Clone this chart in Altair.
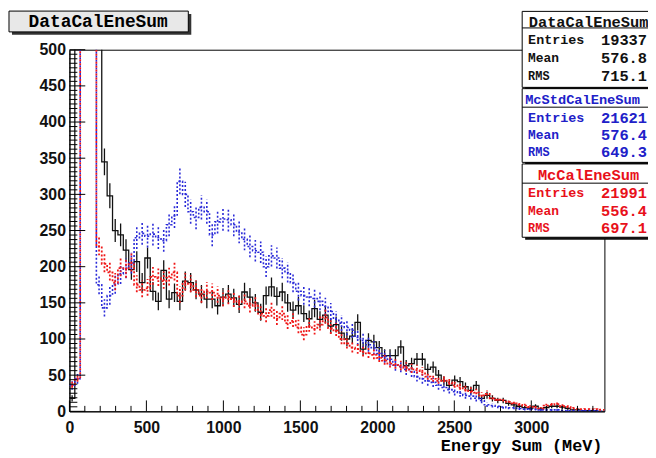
import altair as alt
import pandas as pd

# ---------------- data (35 MeV bins starting at 0) ----------------
BIN_WIDTH = 35
DATA_CAL = [18, 900, 2000, 2200, 1500, 800, 345, 298, 250, 244,
            223, 196, 207, 178, 212, 166, 152, 195, 155, 164,
            152, 180, 178, 168, 162, 155, 155, 146, 158, 162,
            157, 148, 165, 158, 150, 137, 160, 172, 159, 165,
            150, 140, 146, 135, 128, 142, 127, 133, 118, 120,
            108, 100, 104, 123, 86, 98, 96, 88, 77, 77,
            77, 89, 63, 66, 72, 72, 58, 61, 50, 42,
            36, 43, 41, 34, 29, 36, 18, 22, 18, 15,
            15, 11, 9, 7, 5, 4, 7, 3, 5, 7,
            7, 6, 4, 2, 2, 1, 1, 1, 0, 0]
MC_STD = [36, 45, 1500, 2500, 1200, 175, 143, 160, 176, 190,
          198, 205, 240, 246, 242, 245, 240, 236, 258, 270,
          318, 300, 276, 268, 282, 276, 244, 262, 266, 265,
          258, 248, 238, 228, 222, 220, 200, 215, 212, 198,
          192, 178, 166, 160, 158, 156, 152, 145, 138, 127,
          122, 116, 112, 102, 98, 92, 88, 80, 76, 72,
          64, 62, 58, 55, 48, 45, 42, 40, 36, 33,
          30, 27, 25, 22, 21, 18, 15, 9, 8, 7,
          6, 5, 5, 4, 3, 3, 3, 2, 2, 2,
          2, 1, 1, 1, 1, 1, 1, 1, 0, 0]
MC_CAL = [36, 45, 1500, 2500, 1200, 228, 204, 192, 178, 198,
          196, 205, 175, 168, 170, 186, 184, 180, 185, 192,
          160, 178, 175, 168, 160, 166, 164, 160, 155, 158,
          154, 150, 152, 146, 148, 135, 132, 140, 128, 135,
          122, 125, 116, 106, 118, 114, 120, 130, 115, 112,
          100, 94, 88, 86, 82, 80, 78, 74, 70, 66,
          64, 62, 60, 58, 57, 54, 48, 45, 42, 44,
          40, 36, 33, 30, 28, 26, 22, 24, 18, 16,
          15, 13, 11, 9, 8, 6, 5, 4, 8, 9,
          10, 7, 6, 4, 3, 3, 3, 3, 2, 2]

X_TICKS = [0, 500, 1000, 1500, 2000, 2500, 3000]
Y_TICKS = [0, 50, 100, 150, 200, 250, 300, 350, 400, 450, 500]

STAT_NAMES = ["DataCalEneSum", "McStdCalEneSum", "McCalEneSum"]
STAT_ENTRIES = ["19337", "21621", "21991"]
STAT_MEANS = ["576.8", "576.4", "556.4"]
STAT_RMS = ["715.1", "649.3", "697.1"]
STAT_COLORS = ["#111111", "#2020c8", "#e8101a"]

TITLE = "DataCalEneSum"
X_TITLE = "Energy Sum (MeV)"

# ---------------- layout ----------------
X_MAX, Y_MAX = 3475, 500
W, H = 540, 365
MONO = "Liberation Mono"
SANS = "Liberation Sans"

xscale = alt.Scale(domain=[0, X_MAX], nice=False, zero=False)
yscale = alt.Scale(domain=[0, Y_MAX], nice=False)

XAX = alt.Axis(values=X_TICKS, format="d", ticks=False, tickSize=0, grid=False, title=None,
               labelFont=SANS, labelFontWeight="bold", labelFontSize=16,
               labelColor="#111111", labelPadding=8, labelFlush=False,
               labelOverlap=False, domainColor="black", domainWidth=1)
YAX = alt.Axis(values=Y_TICKS, format="d", ticks=False, tickSize=0, grid=False, title=None,
               labelFont=SANS, labelFontWeight="bold", labelFontSize=16,
               labelColor="#111111", labelPadding=4, labelFlush=False,
               labelOverlap=False, domainColor="black", domainWidth=1)


def X(field):
    return alt.X(field, scale=xscale, axis=XAX)


def Y(field):
    return alt.Y(field, scale=yscale, axis=YAX)


def step_frame(values):
    n = len(values)
    lows = [i * BIN_WIDTH for i in range(n)]
    return pd.DataFrame({"x": lows + [n * BIN_WIDTH], "y": values + [values[-1]]})


def err_frame(values):
    n = len(values)
    return pd.DataFrame({"x": [i * BIN_WIDTH + BIN_WIDTH / 2 for i in range(n)], "y": values})


def hist_layers(values, color, width, dash=None, offset=0):
    line_kw = dict(interpolate="step-after", clip=True, color=color, strokeWidth=width)
    rule_kw = dict(clip=True, color=color, strokeWidth=width)
    if dash:
        line_kw.update(strokeDash=dash, strokeDashOffset=offset)
        rule_kw.update(strokeDash=dash, strokeDashOffset=offset)
    step = alt.Chart(step_frame(values)).mark_line(**line_kw).encode(
        x=X("x:Q"), y=Y("y:Q"))
    err = alt.Chart(err_frame(values)).transform_calculate(
        lo="datum.y - sqrt(datum.y)", hi="datum.y + sqrt(datum.y)"
    ).mark_rule(**rule_kw).encode(x=X("x:Q"), y=Y("lo:Q"), y2="hi:Q")
    return [step, err]


dummy = pd.DataFrame({"d": [0]})


def rect(x1, x2, y1, y2, fill, stroke=None, sw=1.0):
    kw = dict(fill=fill, opacity=1)
    if stroke:
        kw.update(stroke=stroke, strokeWidth=sw)
    else:
        kw.update(strokeWidth=0)
    return alt.Chart(dummy).mark_rect(**kw).encode(
        x=alt.value(x1), x2=alt.value(x2), y=alt.value(y1), y2=alt.value(y2))


def hline(x1, x2, y, color="black", sw=1.0):
    return alt.Chart(dummy).mark_rule(color=color, strokeWidth=sw).encode(
        x=alt.value(x1), x2=alt.value(x2), y=alt.value(y))


def text(s, x, y, size, color="black", align="left", font=MONO):
    return alt.Chart(dummy).mark_text(text=s, align=align, baseline="middle", font=font,
                                      fontSize=size, fontWeight="bold", color=color).encode(
        x=alt.value(x), y=alt.value(y))


layers = []
# histograms
layers += hist_layers(DATA_CAL, "#111111", 1.3)
layers += hist_layers(MC_STD, "#2a2ad8", 1.6, dash=[2, 2], offset=0)
layers += hist_layers(MC_CAL, "#f01818", 1.8, dash=[2, 2], offset=2)

# inward ticks
x_major = pd.DataFrame({"v": X_TICKS})
x_minor = pd.DataFrame({"v": [v for v in range(100, X_MAX, 100) if v % 500]})
y_major = pd.DataFrame({"v": Y_TICKS})
y_minor = pd.DataFrame({"v": [i * 6.25 for i in range(1, 80) if i % 8]})
layers.append(alt.Chart(x_major).mark_rule(color="black", strokeWidth=1).encode(
    x=X("v:Q"), y=alt.value(H), y2=alt.value(H - 11)))
layers.append(alt.Chart(x_minor).mark_rule(color="black", strokeWidth=1).encode(
    x=X("v:Q"), y=alt.value(H), y2=alt.value(H - 5.5)))
layers.append(alt.Chart(y_major).mark_rule(color="black", strokeWidth=1).encode(
    y=Y("v:Q"), x=alt.value(0), x2=alt.value(16)))
layers.append(alt.Chart(y_minor).mark_rule(color="black", strokeWidth=1).encode(
    y=Y("v:Q"), x=alt.value(0), x2=alt.value(8)))

# x axis title
layers.append(text(X_TITLE, 538, 400, 17, align="right"))

# title box
layers.append(rect(-58, 123, -36, -15, "#333333"))
layers.append(rect(-61, 120, -39, -18, "#e8e8e8", stroke="black", sw=1))
layers.append(text(TITLE, 29, -28, 18, align="center"))

# stats boxes
boxes = [(-38.7, 38.0, -28, -22, [-10, 8.7, 27]),
         (39.3, 113.7, 51, 58, [68.7, 86.3, 103.7]),
         (115.3, 189.3, 126, 134.7, [144.7, 162.7, 180.3])]
head_sizes = [15.5, 13.8, 15.5]
for k, (top, bot, hy, sep, rows) in enumerate(boxes):
    col = STAT_COLORS[k]
    layers.append(rect(460, 620, top + 3, bot + 2.5, "#111111"))
    layers.append(rect(457, 620, top, bot, "white", stroke="black", sw=1))
    layers.append(hline(457, 620, sep, "black", 1))
    if k == 1:
        layers.append(text(STAT_NAMES[k], 460, hy, head_sizes[k], color=col, align="left"))
    else:
        layers.append(text(STAT_NAMES[k], 524, hy, head_sizes[k], color=col, align="center"))
    labels = ["Entries", "Mean", "RMS"]
    vals = [STAT_ENTRIES[k], STAT_MEANS[k], STAT_RMS[k]]
    sizes = [13.5, 13, 12]
    for j in range(3):
        layers.append(text(labels[j], 463, rows[j], sizes[j], color=col))
        layers.append(text(vals[j], 583, rows[j], 15.5, color=col, align="right"))

chart = alt.layer(*layers).properties(
    width=W, height=H,
    padding={"left": 62, "top": 40, "right": 44, "bottom": 45},
    autosize=alt.AutoSizeParams(type="none"),
    background="white",
).configure_view(stroke="black", strokeWidth=1)

chart.save("out.html", embed_options={"renderer": "svg", "actions": False})
